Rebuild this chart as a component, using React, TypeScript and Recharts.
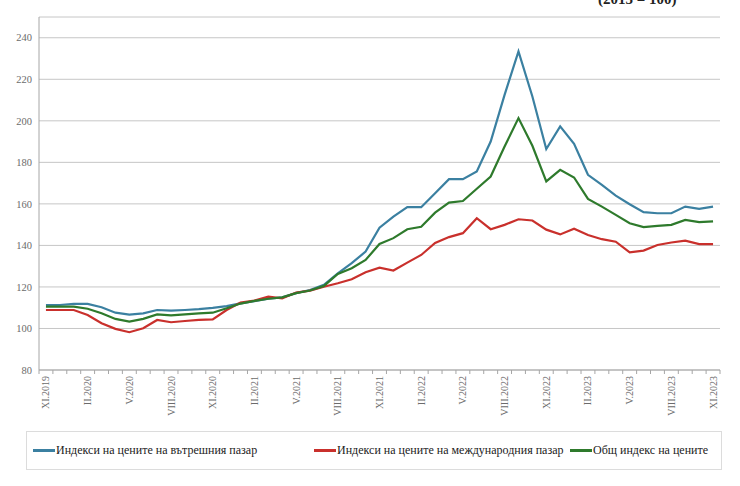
import React from "react"
import { LineChart, Line, XAxis, YAxis, CartesianGrid } from "recharts"

// monthly labels XI.2019 .. XI.2023
const months = [
  "XI.2019", "XII.2019",
  "I.2020", "II.2020", "III.2020", "IV.2020", "V.2020", "VI.2020", "VII.2020", "VIII.2020", "IX.2020", "X.2020", "XI.2020", "XII.2020",
  "I.2021", "II.2021", "III.2021", "IV.2021", "V.2021", "VI.2021", "VII.2021", "VIII.2021", "IX.2021", "X.2021", "XI.2021", "XII.2021",
  "I.2022", "II.2022", "III.2022", "IV.2022", "V.2022", "VI.2022", "VII.2022", "VIII.2022", "IX.2022", "X.2022", "XI.2022", "XII.2022",
  "I.2023", "II.2023", "III.2023", "IV.2023", "V.2023", "VI.2023", "VII.2023", "VIII.2023", "IX.2023", "X.2023", "XI.2023",
]

const domestic = [
  111.3, 111.3, 111.8, 111.8, 110.2, 107.6, 106.7, 107.3, 108.9, 108.6,
  108.9, 109.3, 109.9, 110.8, 112.1, 113.2, 114.3, 115.0, 117.0, 118.5,
  121.0, 126.5, 131.5, 137.0, 148.5, 153.9, 158.4, 158.4, 165.1, 171.9,
  171.9, 175.6, 190.0, 212.5, 233.4, 211.7, 186.4, 197.3, 188.9, 174.0,
  169.2, 164.0, 159.8, 156.0, 155.5, 155.5, 158.7, 157.6, 158.7,
]

const international = [
  108.9, 108.9, 108.9, 106.5, 102.5, 99.8, 98.2, 100.1, 104.1, 103.0,
  103.6, 104.1, 104.4, 108.9, 112.5, 113.4, 115.3, 114.5, 117.3, 118.2,
  120.1, 121.8, 123.7, 127.1, 129.3, 127.9, 131.7, 135.4, 141.2, 144.0,
  145.9, 153.1, 147.8, 149.9, 152.6, 152.0, 147.6, 145.3, 148.0, 145.0,
  143.0, 141.8, 136.7, 137.5, 140.2, 141.4, 142.3, 140.6, 140.6,
]

const total = [
  110.5, 110.5, 110.5, 109.5, 107.3, 104.6, 103.3, 104.6, 106.8, 106.3,
  106.8, 107.3, 107.6, 109.7, 112.0, 113.3, 114.3, 115.0, 117.0, 118.3,
  120.5, 126.3, 129.0, 133.0, 140.7, 143.5, 147.8, 149.0, 155.8, 160.6,
  161.4, 167.3, 173.2, 187.6, 201.3, 188.0, 170.8, 176.4, 172.7, 162.4,
  158.7, 154.7, 150.7, 148.8, 149.4, 149.9, 152.3, 151.2, 151.6,
]

const yTicks = [80, 100, 120, 140, 160, 180, 200, 220, 240]

const seriesNames = {
  domestic: "Индекси на цените на вътрешния пазар",
  international: "Индекси на цените на международния пазар",
  total: "Общ индекс на цените",
}

const COLORS = { domestic: "#3b80a1", international: "#c9302c", total: "#2e7a2c" }
const FONT = '"Liberation Serif", "Times New Roman", "DejaVu Serif", serif'
const HALF_STEP = 6.95

const data = months.map((m, i) => ({
  month: m,
  domestic: domestic[i],
  international: international[i],
  total: total[i],
}))

function MonthTick(props: any) {
  const { x, y, payload, index } = props
  const last = index === months.length - 1
  return (
    <g>
      <line x1={x - HALF_STEP} x2={x - HALF_STEP} y1={y} y2={y + 4} stroke="#a6a6a6" />
      {last && <line x1={x + HALF_STEP} x2={x + HALF_STEP} y1={y} y2={y + 4} stroke="#a6a6a6" />}
      {index % 3 === 0 && (
        <text
          x={x}
          y={y + 6}
          transform={`rotate(-90, ${x}, ${y + 6})`}
          textAnchor="end"
          dominantBaseline="central"
          fontSize={10}
          style={{ fontFamily: FONT }}
          fill="#6b6b6b"
        >
          {payload.value}
        </text>
      )}
    </g>
  )
}

function LegendItem({ left, color, label }: { left: number; color: string; label: string }) {
  return (
    <div style={{ position: "absolute", left, top: 11, display: "flex", alignItems: "center", whiteSpace: "nowrap" }}>
      <div style={{ width: 22, height: 2.5, background: color, marginRight: 1 }} />
      <span style={{ fontFamily: FONT, fontSize: 12, color: "#222" }}>{label}</span>
    </div>
  )
}

export default function App() {
  return (
    <div style={{ position: "absolute", left: 0, top: 0, width: 740, height: 486, background: "#fff", overflow: "hidden" }}>
      <div style={{ position: "absolute", left: 598, top: -8, fontFamily: FONT, fontSize: 15, fontWeight: "bold", color: "#222", lineHeight: "15px" }}>
        (2015 = 100)
      </div>
      <LineChart width={740} height={486} data={data} margin={{ top: 17, right: 20, left: 0, bottom: 0 }}>
        <CartesianGrid vertical={false} stroke="#c6c6c6" />
        <XAxis
          dataKey="month"
          interval={0}
          height={116}
          padding={{ left: HALF_STEP, right: HALF_STEP }}
          tickLine={false}
          tickSize={0}
          tickMargin={0}
          axisLine={{ stroke: "#a6a6a6" }}
          tick={<MonthTick />}
        />
        <XAxis xAxisId="top" dataKey="month" orientation="top" height={0} tick={false} tickLine={false} axisLine={{ stroke: "#c6c6c6" }} />
        <YAxis
          domain={[80, 250]}
          ticks={yTicks}
          width={39}
          tickLine={false}
          tickSize={0}
          tickMargin={7}
          axisLine={{ stroke: "#a6a6a6" }}
          tick={{ fill: "#6b6b6b", fontSize: 10.5, style: { fontFamily: FONT } }}
        />
        <YAxis yAxisId="right" orientation="right" width={0} tick={false} tickLine={false} axisLine={{ stroke: "#c6c6c6" }} />
        <Line type="linear" dataKey="domestic" stroke={COLORS.domestic} strokeWidth={2.2} dot={false} isAnimationActive={false} />
        <Line type="linear" dataKey="international" stroke={COLORS.international} strokeWidth={2.2} dot={false} isAnimationActive={false} />
        <Line type="linear" dataKey="total" stroke={COLORS.total} strokeWidth={2.2} dot={false} isAnimationActive={false} />
      </LineChart>
      <div style={{ position: "absolute", left: 26, top: 431, width: 696, height: 39, border: "1px solid #dcdcdc", boxSizing: "border-box" }}>
        <LegendItem left={6} color={COLORS.domestic} label={seriesNames.domestic} />
        <LegendItem left={287} color={COLORS.international} label={seriesNames.international} />
        <LegendItem left={543} color={COLORS.total} label={seriesNames.total} />
      </div>
    </div>
  )
}
